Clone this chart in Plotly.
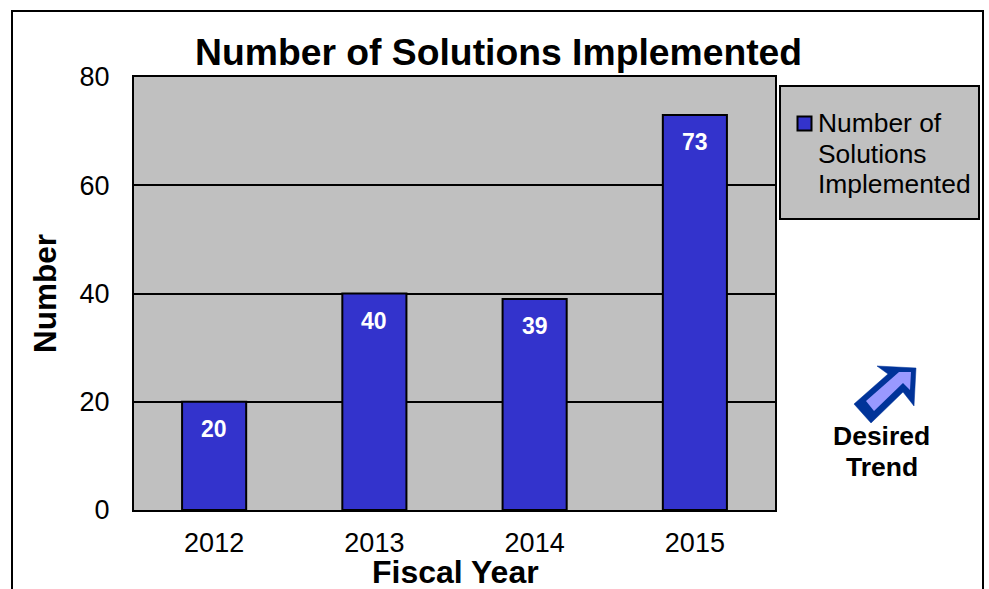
import plotly.graph_objects as go

fiscal_years = ["2012", "2013", "2014", "2015"]
solutions = [20, 40, 39, 73]
y_ticks = [0, 20, 40, 60, 80]
legend_lines = ["Number of", "Solutions", "Implemented"]

FONT = "Liberation Sans, Arial, sans-serif"
BAR_COLOR = "#3333CC"
W, H = 989, 589
L, R, T, B = 134, 775, 77, 510


def px(x):
    return (x - L) / (R - L)


def py(y):
    return (B - y) / (B - T)


def path(points):
    return "M " + " L ".join(f"{px(x):.5f},{py(y):.5f}" for x, y in points) + " Z"


def page_text(text, x, y, size, bold=False, anchor="center"):
    fig.add_annotation(
        xref="paper", yref="paper", x=px(x), y=py(y),
        xanchor=anchor, yanchor="middle",
        text=text, showarrow=False,
        font=dict(family=FONT, size=size, color="black",
                  weight="bold" if bold else "normal"),
    )


fig = go.Figure(
    go.Bar(
        x=fiscal_years,
        y=solutions,
        width=0.4,
        marker=dict(color=BAR_COLOR, line=dict(color="black", width=2)),
        showlegend=False,
    )
)

# Value labels sit inside each bar, a little below its top edge
for index, value in enumerate(solutions):
    fig.add_annotation(
        x=index, y=value, text=str(value), showarrow=False, yshift=-27,
        font=dict(family=FONT, size=23, color="white", weight="bold"),
    )

shapes = [
    # Outer chart frame, running off the bottom of the page
    dict(type="rect", xref="paper", yref="paper", layer="below",
         x0=px(12), x1=px(983), y0=py(640), y1=py(11),
         line=dict(color="black", width=2), fillcolor="rgba(0,0,0,0)"),
    # Legend panel and its colour key
    dict(type="rect", xref="paper", yref="paper", layer="below",
         x0=px(780), x1=px(979), y0=py(219), y1=py(86),
         line=dict(color="black", width=2), fillcolor="#C0C0C0"),
    dict(type="rect", xref="paper", yref="paper", layer="above",
         x0=px(797.5), x1=px(811.5), y0=py(130.5), y1=py(116.5),
         line=dict(color="black", width=2), fillcolor=BAR_COLOR),
    # Desired-trend arrow: dark outline with a light inner block
    dict(type="path", xref="paper", yref="paper", layer="above",
         path=path([(854, 404), (888, 374), (877, 366), (916, 368),
                    (914, 406), (903, 392), (871, 423)]),
         fillcolor="#003399", line=dict(color="#003399", width=0.5)),
    dict(type="path", xref="paper", yref="paper", layer="above",
         path=path([(866, 401), (899, 372), (911, 372), (910, 390),
                    (903, 383), (874, 411)]),
         fillcolor="#9999FF", line=dict(width=0)),
]

page_text("Number of Solutions Implemented", 498, 52, 37.3, bold=True)
page_text("Fiscal Year", 455, 571.5, 32, bold=True)
page_text("Desired", 881.5, 436, 26.5, bold=True)
page_text("Trend", 881.5, 467, 26.5, bold=True)
for line, y in zip(legend_lines, (123, 154, 184)):
    page_text(line, 816, y, 26.4, anchor="left")

fig.update_layout(
    width=W, height=H,
    margin=dict(l=L, r=W - R, t=T, b=H - B, autoexpand=False),
    paper_bgcolor="white",
    plot_bgcolor="#C0C0C0",
    shapes=shapes,
    showlegend=False,
    font=dict(family=FONT, color="black"),
    xaxis=dict(
        type="category",
        range=[-0.5, 3.5],
        tickfont=dict(family=FONT, size=27),
        ticks="", ticklabelstandoff=8,
        showline=True, linecolor="black", linewidth=2, mirror=True,
    ),
    yaxis=dict(
        range=[0, 80],
        tickvals=y_ticks,
        tickfont=dict(family=FONT, size=27),
        ticks="", ticklabelstandoff=17,
        showline=True, linecolor="black", linewidth=2, mirror=True,
        showgrid=True, gridcolor="black", gridwidth=1.5,
        zeroline=False,
        title=dict(text="Number", standoff=14,
                   font=dict(family=FONT, size=31.5, weight="bold")),
    ),
)

fig.write_html("out.html", config={"displayModeBar": False})
